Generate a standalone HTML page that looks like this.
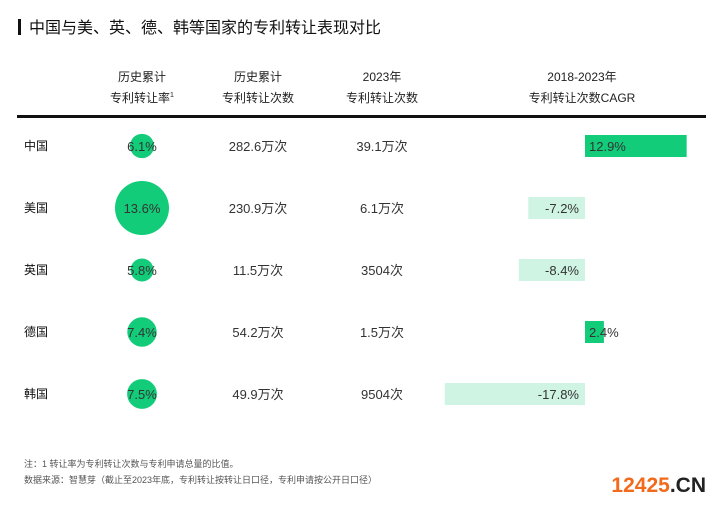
<!DOCTYPE html>
<html><head><meta charset="utf-8"><style>
body{margin:0;background:#fff;width:720px;height:504px;overflow:hidden;font-family:"Liberation Sans","Noto Sans CJK SC",sans-serif;color:#222}
</style></head><body>
<svg width="720" height="504" style="font-family:'Liberation Sans','Noto Sans CJK SC',sans-serif">
<rect x="18" y="19" width="3" height="16" fill="#111"/>
<text x="29" y="33" font-size="16" fill="#111">中国与美、英、德、韩等国家的专利转让表现对比</text>
<g font-size="12" fill="#222" text-anchor="middle">
<text x="142" y="81">历史累计</text><text x="142" y="102">专利转让率<tspan font-size="7" dy="-5">1</tspan></text>
<text x="258" y="81">历史累计</text><text x="258" y="102">专利转让次数</text>
<text x="382" y="81">2023年</text><text x="382" y="102">专利转让次数</text>
<text x="582" y="81">2018-2023年</text><text x="582" y="102">专利转让次数CAGR</text>
</g>
<rect x="17" y="115" width="689" height="3" fill="#111"/>
<g id="rows"></g>
<g font-size="9" fill="#555">
<text x="24" y="467">注：1 转让率为专利转让次数与专利申请总量的比值。</text>
<text x="24" y="483">数据来源：智慧芽（截止至2023年底，专利转让按转让日口径，专利申请按公开日口径）</text>
</g>
<text x="706" y="492" text-anchor="end" font-size="21" font-weight="bold"><tspan fill="#f26a1b">12425</tspan><tspan fill="#222">.CN</tspan></text>
</svg>
<script>
const countries=["中国","美国","英国","德国","韩国"];
const rates=[6.1,13.6,5.8,7.4,7.5];
const totals=["282.6万次","230.9万次","11.5万次","54.2万次","49.9万次"];
const counts2023=["39.1万次","6.1万次","3504次","1.5万次","9504次"];
const cagr=[12.9,-7.2,-8.4,2.4,-17.8];
const NS="http://www.w3.org/2000/svg";
const g=document.getElementById('rows');
const rowY=i=>146+i*62;
const rScale=v=>27*v/13.6;
const x0=585, xs=v=>x0+v*7.88;
function el(t,a,txt){const e=document.createElementNS(NS,t);for(const k in a)e.setAttribute(k,a[k]);if(txt!=null)e.textContent=txt;g.appendChild(e);return e;}
countries.forEach((c,i)=>{
 const y=rowY(i);
 let e=el('text',{x:24,y:y+4,'font-size':12,fill:'#111'},c);
 
 
 e=el('circle',{cx:142,cy:y,r:rScale(rates[i]),fill:'#12cc7a'});
 
 
 e=el('text',{x:142,y:y+5,'font-size':13,fill:'#333','text-anchor':'middle'},rates[i].toFixed(1)+'%');
 
 
 e=el('text',{x:258,y:y+5,'font-size':13,fill:'#333','text-anchor':'middle'},totals[i]);
 
 
 e=el('text',{x:382,y:y+5,'font-size':13,fill:'#333','text-anchor':'middle'},counts2023[i]);
 
 
 const v=cagr[i],xa=Math.min(x0,xs(v)),w=Math.abs(xs(v)-x0);
 e=el('rect',{x:xa,y:y-11,width:w,height:22,fill:v>=0?'#12cc7a':'#d0f4e4'});
 
 
 const lbl=v.toFixed(1)+'%';
 e=v>=0?el('text',{x:x0+4,y:y+5,'font-size':13,fill:'#333'},lbl):el('text',{x:x0-6,y:y+5,'font-size':13,fill:'#333','text-anchor':'end'},lbl);
 
 
});
</script>
</body></html>
